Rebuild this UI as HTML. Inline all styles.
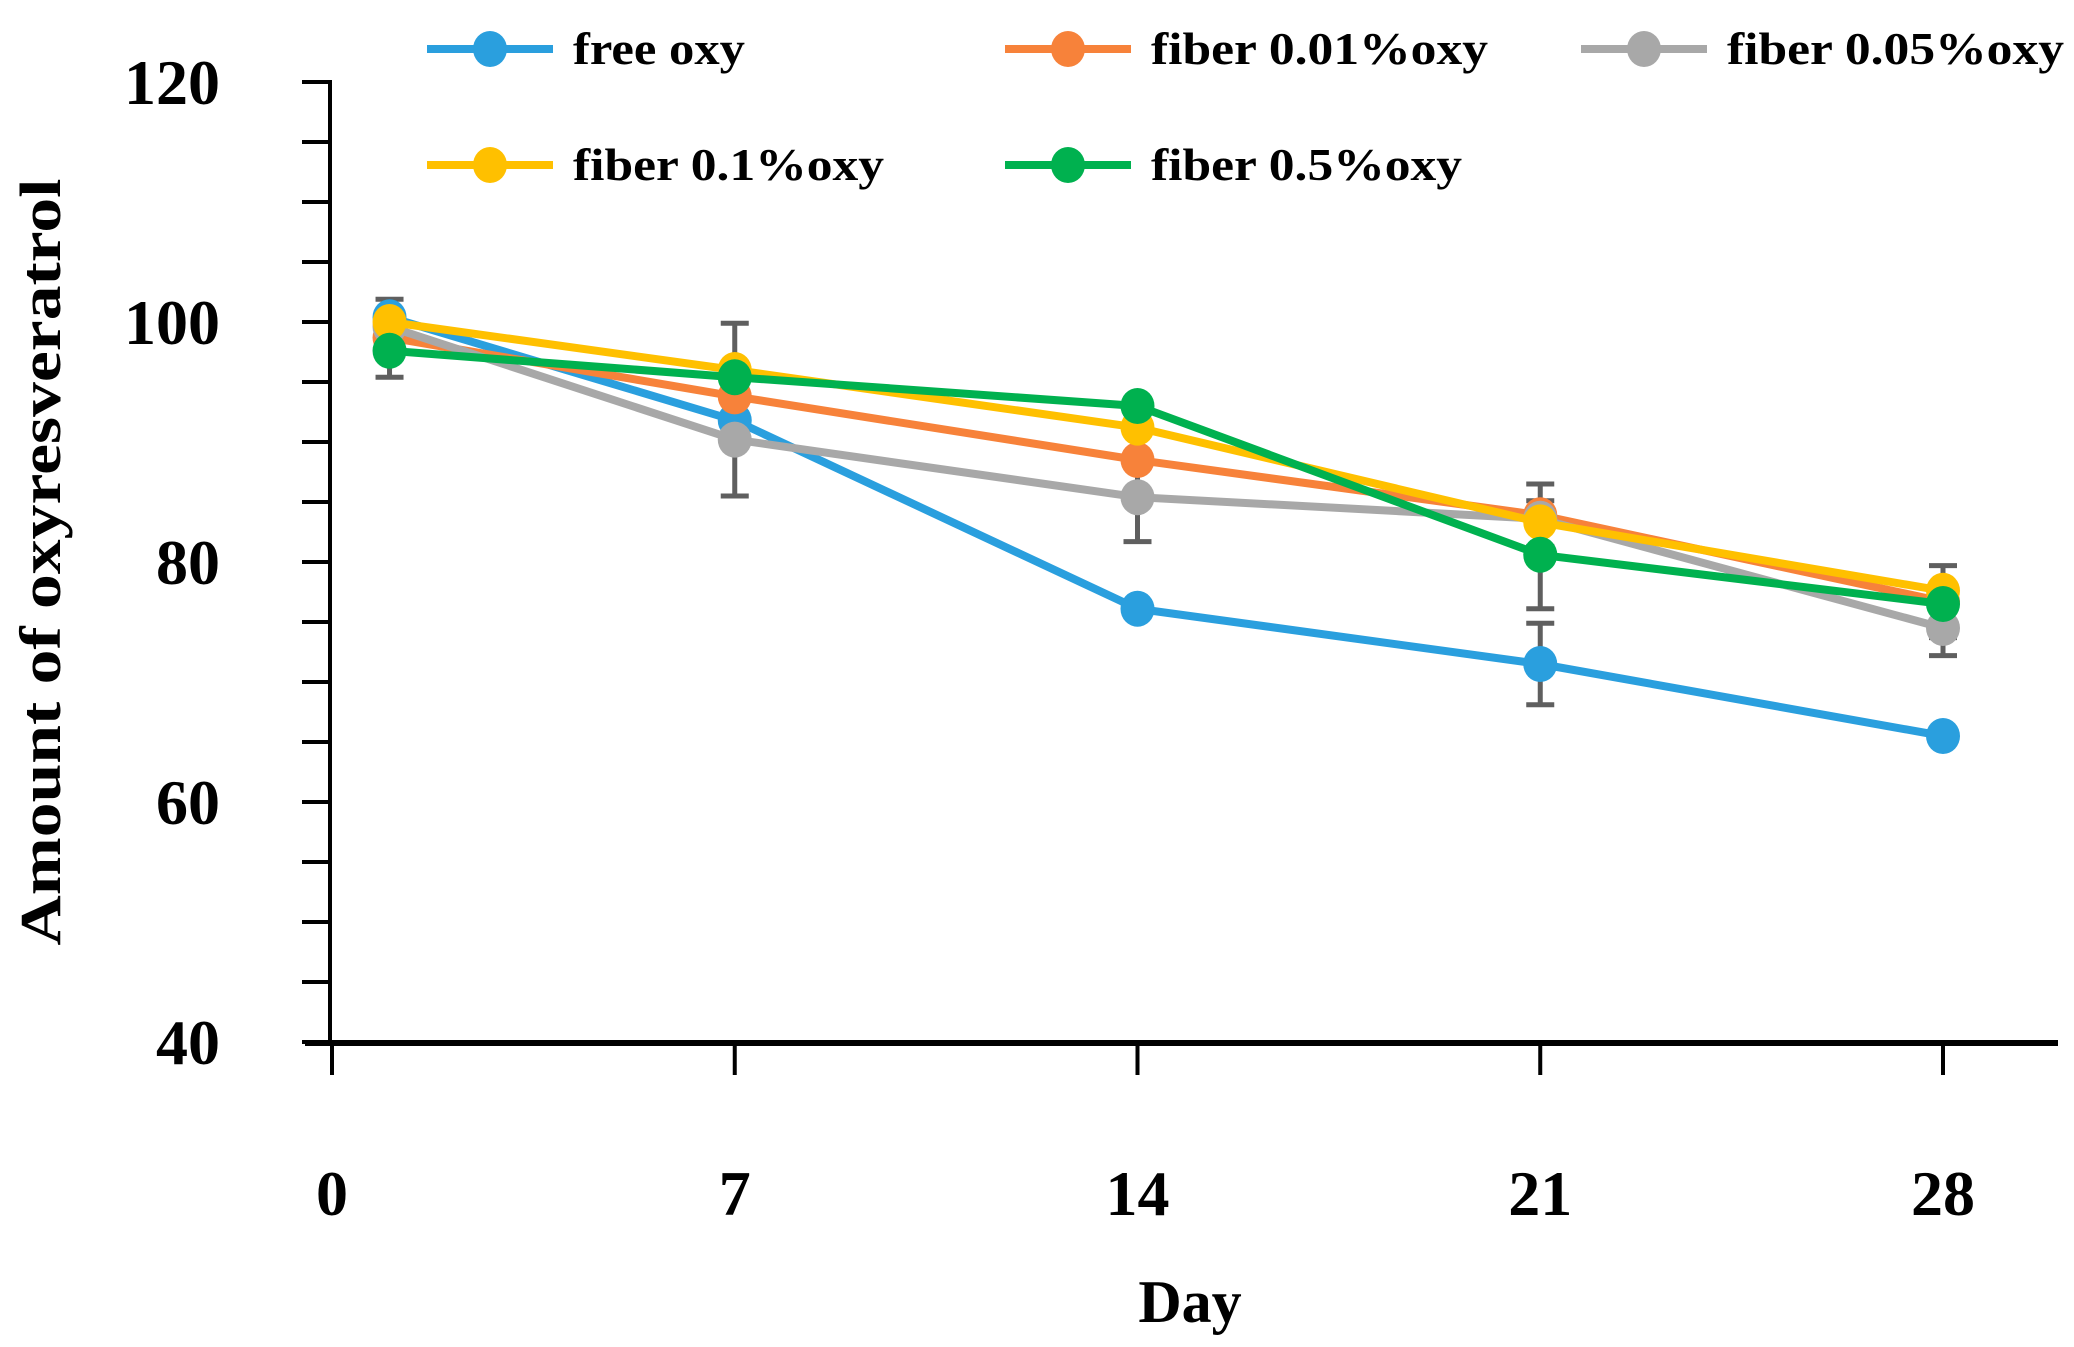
<!DOCTYPE html>
<html><head><meta charset="utf-8">
<style>
html,body{margin:0;padding:0;background:#fff;}
svg{display:block;}
text{font-family:"Liberation Serif",serif;font-weight:bold;fill:#000;}
</style></head>
<body>
<svg id="chart" width="2074" height="1347" viewBox="0 0 2074 1347" xmlns="http://www.w3.org/2000/svg">
<g id="axes"></g>
<g id="errs"></g>
<g id="series"></g>
<g id="legend"></g>
<text transform="translate(60,562) rotate(-90)" text-anchor="middle" font-size="58" textLength="767" lengthAdjust="spacingAndGlyphs">Amount of oxyresveratrol</text>
<text x="1190" y="1322" text-anchor="middle" font-size="60">Day</text>
</svg>
<script>
const days = [1, 7, 14, 21, 28];
const seriesNames = ["free oxy", "fiber 0.01%oxy", "fiber 0.05%oxy", "fiber 0.1%oxy", "fiber 0.5%oxy"];
const freeOxy = [100.4, 91.8, 76.1, 71.5, 65.5];
const fiber001 = [98.7, 93.8, 88.5, 83.9, 76.7];
const fiber005 = [99.6, 90.2, 85.4, 83.6, 74.5];
const fiber01 = [100.0, 96.0, 91.2, 83.3, 77.6];
const fiber05 = [97.6, 95.4, 93.0, 80.6, 76.5];
const errFree = [1.5, 0, 0, 3.4, 0];
const err001 = [0, 0, 0, 2.6, 3.0];
const err005 = [0, 4.7, 3.7, 0, 2.3];
const err01 = [0, 3.9, 0, 0, 0];
const err05 = [2.2, 0, 0, 4.5, 0];
const yTicks = [40, 60, 80, 100, 120];
const xTicks = [0, 7, 14, 21, 28];

const NS = "http://www.w3.org/2000/svg";
const x = d => 332 + (d / 28) * (1943 - 332);
const y = v => 1042 - (v - 40) / 80 * 960;
function mk(tag, attrs, parent) {
  const e = document.createElementNS(NS, tag);
  for (const k in attrs) e.setAttribute(k, attrs[k]);
  parent.appendChild(e);
  return e;
}
const axes = document.getElementById('axes');
let el;
el = mk('line', {x1: 330, y1: 80, x2: 330, y2: 1044, stroke: '#000', 'stroke-width': 4}, axes);


el = mk('line', {x1: 305, y1: 1043, x2: 2058, y2: 1043, stroke: '#000', 'stroke-width': 6}, axes);


for (let v = 40; v <= 120; v += 5) {
  el = mk('line', {x1: 302, y1: y(v), x2: 330, y2: y(v), stroke: '#000', 'stroke-width': 4}, axes);
  
  
}
yTicks.forEach(v => {
  el = mk('text', {x: 220, y: y(v) + 22, 'text-anchor': 'end', 'font-size': 64}, axes);
  el.textContent = v;
  
  
});
xTicks.forEach(d => {
  el = mk('line', {x1: x(d), y1: 1043, x2: x(d), y2: 1075, stroke: '#000', 'stroke-width': 4}, axes);
  
  
  el = mk('text', {x: x(d), y: 1215, 'text-anchor': 'middle', 'font-size': 64}, axes);
  el.textContent = d;
  
  
});

const allVals = [freeOxy, fiber001, fiber005, fiber01, fiber05];
const allErrs = [errFree, err001, err005, err01, err05];
const colors = ["#2A9FDE", "#F7823A", "#A8A8A8", "#FFC000", "#00B14F"];
const errG = document.getElementById('errs');
allVals.forEach((vals, si) => {
  vals.forEach((v, i) => {
    const e = allErrs[si][i];
    if (!e) return;
    const cx = x(days[i]);
    el = mk('path', {d: `M${cx},${y(v + e)}V${y(v - e)}M${cx - 14},${y(v + e)}H${cx + 14}M${cx - 14},${y(v - e)}H${cx + 14}`, stroke: '#5f5f5f', 'stroke-width': 5, fill: 'none'}, errG);
    
    
  });
});
const sg = document.getElementById('series');
allVals.forEach((vals, si) => {
  const g = mk('g', {}, sg);
  
  
  el = mk('polyline', {points: vals.map((v, i) => x(days[i]) + ',' + y(v)).join(' '), fill: 'none', stroke: colors[si], 'stroke-width': 8, 'stroke-linejoin': 'round'}, g);
  
  
  vals.forEach((v, i) => {
    el = mk('ellipse', {cx: x(days[i]), cy: y(v), rx: 17, ry: 18, fill: colors[si]}, g);
    
    
  });
});
const lg = document.getElementById('legend');
const legX = [427, 1005, 1581, 427, 1005];
const legY = [49, 49, 49, 165, 165];
const legW = [172, 337, 337, 311, 311];
seriesNames.forEach((n, si) => {
  const g = mk('g', {}, lg);
  
  
  mk('line', {x1: legX[si], y1: legY[si], x2: legX[si] + 126, y2: legY[si], stroke: colors[si], 'stroke-width': 8}, g);
  mk('ellipse', {cx: legX[si] + 63, cy: legY[si], rx: 17, ry: 18, fill: colors[si]}, g);
  el = mk('text', {x: legX[si] + 146, y: legY[si] + 15, 'font-size': 46, textLength: legW[si], lengthAdjust: 'spacingAndGlyphs'}, g);
  el.textContent = n;
  
  
});
</script>
</body></html>
